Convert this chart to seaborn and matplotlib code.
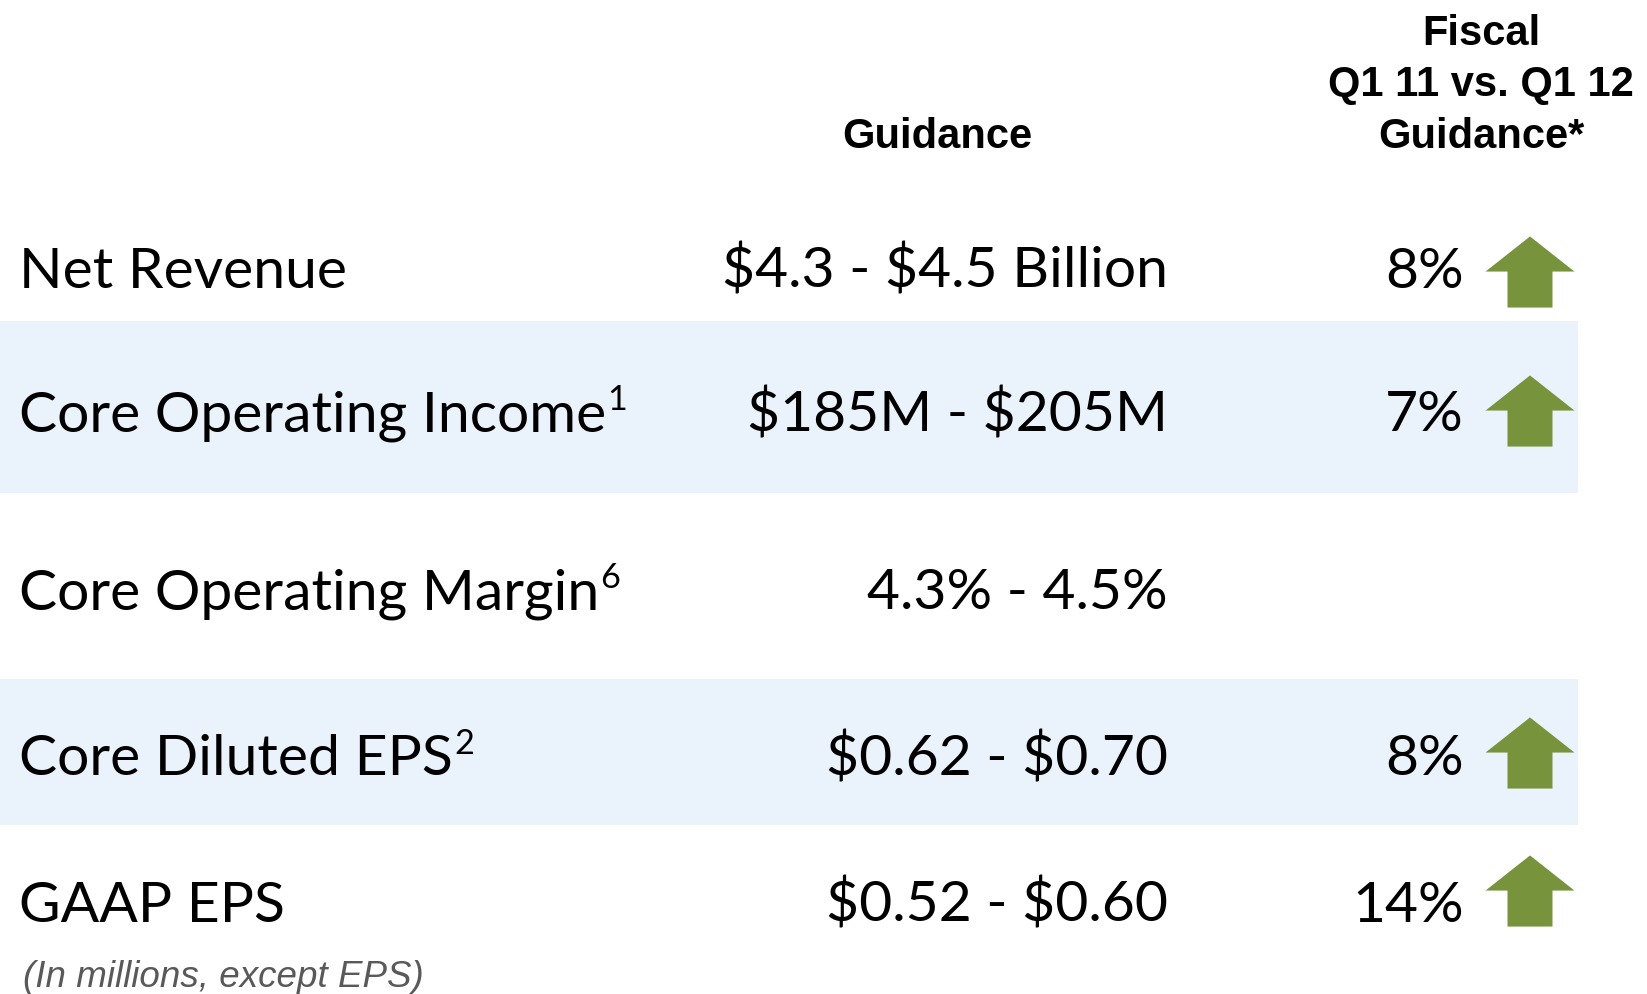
import matplotlib
matplotlib.use("Agg")
import matplotlib.pyplot as plt
from matplotlib.path import Path
from matplotlib.markers import MarkerStyle
import seaborn as sns
import pandas as pd

# table content
metrics = ["Net Revenue", "Core Operating Income", "Core Operating Margin",
           "Core Diluted EPS", "GAAP EPS"]
footnotes = ["", "1", "6", "2", ""]
guidance = ["$4.3 - $4.5 Billion", "$185M - $205M", "4.3% - 4.5%",
            "$0.62 - $0.70", "$0.52 - $0.60"]
growth = ["8%", "7%", "", "8%", "14%"]
shaded = [False, True, False, True, False]

df = pd.DataFrame({"metric": metrics, "note": footnotes, "guidance": guidance,
                   "growth": growth, "shaded": shaded})

# layout in pixel space of a 1647x995 canvas
W, H = 1647, 995
row_base = [288, 431, 609, 775, 922]
band_span = {1: (322, 494), 3: (680, 826)}
arrow_y = [273, 412, None, 754, 892]
label_x, guid_x, pct_x, arrow_x = 19, 1168, 1464, 1530
green = "#77933C"
band = "#EAF2FC"

sns.set_theme(style="white")
plt.rcParams["font.family"] = ["Lato", "DejaVu Sans"]
plt.rcParams["text.parse_math"] = False

fig = plt.figure(figsize=(W / 100, H / 100), dpi=100)
ax = fig.add_axes([0, 0, 1, 1])
ax.set_xlim(0, W)
ax.set_ylim(H, 0)
ax.axis("off")

for i, (y0, y1) in band_span.items():
    ax.axhspan(y0, y1, xmin=0, xmax=1578 / W, color=band, lw=0, zorder=0)

# arrow marker
verts = [(0, 0.80), (1, 0.01), (0.506, 0.01), (0.506, -0.80),
         (-0.506, -0.80), (-0.506, 0.01), (-1, 0.01), (0, 0.80)]
arrow = MarkerStyle(Path(verts, closed=True))
arrows = pd.DataFrame({"x": [arrow_x] * 4,
                       "y": [y for y in arrow_y if y is not None]})
sns.scatterplot(data=arrows, x="x", y="y", marker=arrow, s=64 ** 2,
                color=green, edgecolor="none", linewidth=0, ax=ax, zorder=3,
                legend=False)

fig.canvas.draw()
r = fig.canvas.get_renderer()
fs = 41
for i, row in df.iterrows():
    t = ax.text(label_x, row_base[i], row["metric"], fontsize=fs,
                family="Lato", ha="left", va="baseline", color="black")
    if row["note"]:
        bb = t.get_window_extent(renderer=r)
        ax.text(bb.x1 + 1, row_base[i] - 21, row["note"], fontsize=fs * 0.6,
                family="Lato", ha="left", va="baseline", color="black")
    ax.text(guid_x, row_base[i], row["guidance"], fontsize=fs, family="Lato",
            ha="right", va="baseline", color="black")
    if row["growth"]:
        ax.text(pct_x, row_base[i], row["growth"], fontsize=fs, family="Lato",
                ha="right", va="baseline", color="black")

hdr = dict(fontsize=30, family="Liberation Sans", fontweight="bold",
           ha="center", va="baseline", color="black")
ax.text(937, 148, "Guidance", **hdr)
for yb, line in zip([45, 96, 148], ["Fiscal", "Q1 11 vs. Q1 12", "Guidance*"]):
    ax.text(1481, yb, line, **hdr)

ax.text(23, 987, "(In millions, except EPS)", fontsize=26.5,
        family="Liberation Sans", style="italic", color="#595959",
        ha="left", va="baseline")

fig.savefig("out.png", dpi=100, facecolor="white")
